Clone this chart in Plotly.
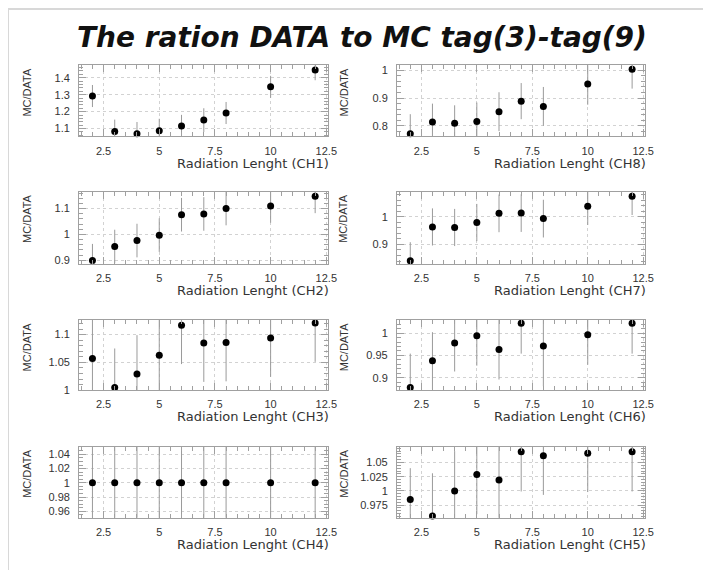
import plotly.graph_objects as go

# ---------------- data ----------------
radiation_length = [2, 3, 4, 5, 6, 7, 8, 10, 12]

ratio_ch1 = [1.292, 1.083, 1.069, 1.088, 1.116, 1.150, 1.192, 1.346, 1.445]
err_ch1 = [0.065, 0.07, 0.07, 0.07, 0.065, 0.07, 0.065, 0.065, 0.06]

ratio_ch2 = [0.899, 0.953, 0.976, 0.997, 1.076, 1.079, 1.100, 1.110, 1.147]
err_ch2 = [0.064, 0.065, 0.065, 0.065, 0.065, 0.065, 0.065, 0.065, 0.065]

ratio_ch3 = [1.057, 1.005, 1.029, 1.063, 1.117, 1.085, 1.086, 1.094, 1.121]
err_ch3 = [0.07, 0.07, 0.07, 0.07, 0.07, 0.07, 0.07, 0.07, 0.07]

ratio_ch4 = [1.0, 1.0, 1.0, 1.0, 1.0, 1.0, 1.0, 1.0, 1.0]
err_ch4 = [0.07, 0.07, 0.07, 0.07, 0.07, 0.07, 0.07, 0.07, 0.07]

ratio_ch5 = [0.985, 0.956, 1.000, 1.029, 1.019, 1.069, 1.062, 1.066, 1.069]
err_ch5 = [0.055, 0.075, 0.07, 0.07, 0.07, 0.07, 0.069, 0.068, 0.07]

ratio_ch6 = [0.878, 0.938, 0.978, 0.994, 0.963, 1.022, 0.971, 0.996, 1.022]
err_ch6 = [0.076, 0.064, 0.064, 0.067, 0.067, 0.068, 0.09, 0.067, 0.068]

ratio_ch7 = [0.841, 0.963, 0.961, 0.979, 1.012, 1.013, 0.993, 1.038, 1.074]
err_ch7 = [0.067, 0.067, 0.067, 0.067, 0.068, 0.068, 0.068, 0.068, 0.068]

ratio_ch8 = [0.772, 0.814, 0.809, 0.816, 0.851, 0.889, 0.870, 0.951, 1.004]
err_ch8 = [0.07, 0.066, 0.065, 0.068, 0.07, 0.065, 0.07, 0.075, 0.07]

channel_names = ["CH1", "CH2", "CH3", "CH4", "CH8", "CH7", "CH6", "CH5"]
channel_ratios = [ratio_ch1, ratio_ch2, ratio_ch3, ratio_ch4,
                  ratio_ch8, ratio_ch7, ratio_ch6, ratio_ch5]
channel_errors = [err_ch1, err_ch2, err_ch3, err_ch4,
                  err_ch8, err_ch7, err_ch6, err_ch5]

x_tickvals = [2.5, 5, 7.5, 10, 12.5]
x_ticktext = ["2.5", "5", "7.5", "10", "12.5"]

y_tickvals = [
    [1.1, 1.2, 1.3, 1.4],
    [0.9, 1.0, 1.1],
    [1.0, 1.05, 1.1],
    [0.96, 0.98, 1.0, 1.02, 1.04],
    [0.8, 0.9, 1.0],
    [0.9, 1.0],
    [0.9, 0.95, 1.0],
    [0.975, 1.0, 1.025, 1.05],
]
y_ticktext = [
    ["1.1", "1.2", "1.3", "1.4"],
    ["0.9", "1", "1.1"],
    ["1", "1.05", "1.1"],
    ["0.96", "0.98", "1", "1.02", "1.04"],
    ["0.8", "0.9", "1"],
    ["0.9", "1"],
    ["0.9", "0.95", "1"],
    ["0.975", "1", "1.025", "1.05"],
]

# ---------------- layout / style ----------------
OFF = 8                      # browser body margin
W, H = 712 - OFF, 576 - OFF  # figure size


def px(xp):
    return (xp - OFF) / W


def py(yp):
    return 1 - (yp - OFF) / H


y_ranges = [
    [1.054, 1.473], [0.886, 1.165], [1.0, 1.126], [0.951, 1.051],
    [0.762, 1.018], [0.830, 1.090], [0.872, 1.029], [0.953, 1.078],
]
y_minor = [0.02, 0.02, 0.01, 0.005, 0.02, 0.02, 0.01, 0.005]
col_px = [(80, 332), (402, 653)]
row_px = [(65, 137), (193, 266), (323, 394), (451, 523)]
ytitle_x_px = [27, 348]

FONT = "Liberation Sans, Arial, Helvetica, sans-serif"
WIDE = "DejaVu Sans, Verdana, sans-serif"
fig = go.Figure()
annotations = []
layout = {}

for i, name in enumerate(channel_names):
    col = 0 if i < 4 else 1
    row = i % 4
    x0, x1 = col_px[col]
    top, bot = row_px[row]
    n = i + 1
    xa = "x" if n == 1 else f"x{n}"
    ya = "y" if n == 1 else f"y{n}"
    fig.add_trace(go.Scatter(
        x=radiation_length, y=channel_ratios[i],
        mode="markers",
        marker=dict(color="black", size=7, symbol="circle"),
        error_y=dict(type="data", array=channel_errors[i], color="#9a9a9a",
                     thickness=1, width=0),
        xaxis=xa, yaxis=ya, showlegend=False, cliponaxis=False,
    ))
    axis_common = dict(
        showline=True, linecolor="#a0a0a0", linewidth=1, mirror="ticks",
        ticks="inside", ticklen=7, tickcolor="#a0a0a0",
        showgrid=True, gridcolor="#d2d2d2", griddash="dot", gridwidth=1,
        zeroline=False,
        tickfont=dict(family=FONT, size=11, color="#333333"),
    )
    layout["xaxis" if n == 1 else f"xaxis{n}"] = dict(
        axis_common,
        domain=[px(x0), px(x1)], anchor=ya, range=[1.4, 12.57],
        tickvals=x_tickvals, ticktext=x_ticktext, ticklabelstandoff=4,
        minor=dict(dtick=0.5, ticks="inside", ticklen=4, tickcolor="#a0a0a0",
                   showgrid=False),
    )
    layout["yaxis" if n == 1 else f"yaxis{n}"] = dict(
        axis_common,
        domain=[py(bot), py(top)], anchor=xa, range=y_ranges[i],
        tickvals=y_tickvals[i], ticktext=y_ticktext[i], ticklabelstandoff=6,
        minor=dict(dtick=y_minor[i], ticks="inside", ticklen=4,
                   tickcolor="#a0a0a0", showgrid=False),
    )
    annotations.append(dict(
        text=f"Radiation Lenght ({name})", xref="paper", yref="paper",
        x=px(x1 + 3), y=py(bot + 27), xanchor="right", yanchor="middle",
        showarrow=False, font=dict(family=WIDE, size=13, color="#333333"),
    ))
    annotations.append(dict(
        text="MC/DATA", xref="paper", yref="paper", textangle=-90,
        x=px(ytitle_x_px[col]), y=py(top), xanchor="center", yanchor="top",
        showarrow=False, font=dict(family=FONT, size=11, color="#333333"),
    ))

annotations.append(dict(
    text="<b><i>The ration DATA to MC tag(3)-tag(9)</i></b>",
    xref="paper", yref="paper", x=px(367), y=py(37),
    xanchor="center", yanchor="middle", showarrow=False,
    font=dict(family=WIDE, size=28, color="#111111"),
))

fig.update_layout(
    width=W, height=H, margin=dict(l=0, r=0, t=0, b=0),
    paper_bgcolor="white", plot_bgcolor="white",
    annotations=annotations,
    shapes=[
        dict(type="line", xref="paper", yref="paper", x0=0, x1=1, y0=1, y1=1,
             line=dict(color="#d8d8d8", width=2), layer="below"),
        dict(type="line", xref="paper", yref="paper", x0=0, x1=0, y0=0, y1=1,
             line=dict(color="#d8d8d8", width=2), layer="below"),
    ],
    **layout,
)

fig.write_html("out.html")
